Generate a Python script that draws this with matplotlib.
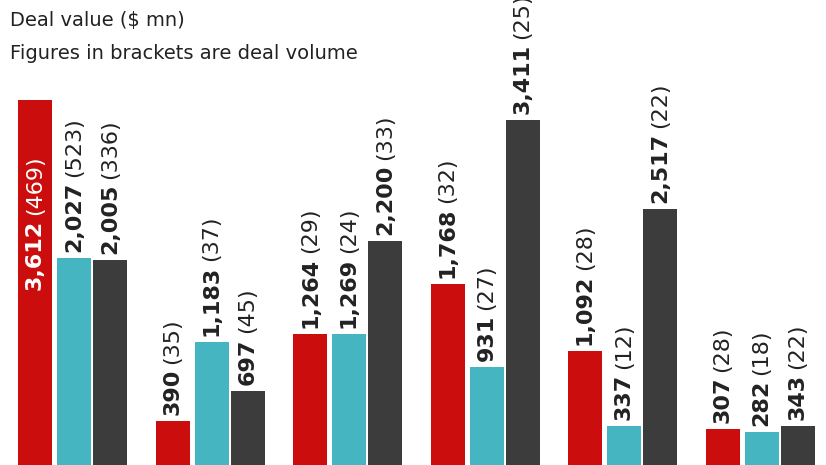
import matplotlib
matplotlib.use('Agg')
import matplotlib.pyplot as plt
import numpy as np

# Deal value ($ mn) and deal volume per group: red, teal, grey series
red_val = [3612, 390, 1264, 1768, 1092, 307]
red_vol = [469, 35, 29, 32, 28, 28]
teal_val = [2027, 1183, 1269, 931, 337, 282]
teal_vol = [523, 37, 24, 27, 12, 18]
grey_val = [2005, 697, 2200, 3411, 2517, 343]
grey_vol = [336, 45, 33, 25, 22, 22]

colors = ['#cc0d0d', '#46b5c2', '#3c3c3c']
series = [(red_val, red_vol), (teal_val, teal_vol), (grey_val, grey_vol)]

plt.rcParams['font.family'] = ['DejaVu Sans']
fig = plt.figure(figsize=(8.26, 4.65), dpi=100)
ax = fig.add_axes([0, 0, 1, 1])
ymin, ymax = -50, 4620
ax.set_xlim(0, 826)
ax.set_ylim(ymin, ymax)
ax.axis('off')
upp = (ymax - ymin) / 465  # data units per pixel

bw = 34
offsets = [17, 56, 92]
grp_x = 18 + 137.5 * np.arange(len(red_val))

fig.canvas.draw()
rend = fig.canvas.get_renderer()
inv = ax.transData.inverted()

for s, (vals, vols) in enumerate(series):
    xs = grp_x + offsets[s]
    ax.bar(xs, np.array(vals) - ymin, bottom=ymin, width=bw, color=colors[s])
    for x, v, n in zip(xs, vals, vols):
        inside = v > 3500 and s == 0
        tc = 'white' if inside else '#222222'
        y0 = v - 190 * upp if inside else v + 6 * upp
        t1 = ax.text(x, y0, f'{v:,}', rotation=90, ha='center', va='bottom',
                     fontsize=16, fontweight='bold', color=tc)
        bb = t1.get_window_extent(rend)
        ytop = inv.transform((0, bb.y1))[1]
        ax.text(x, ytop + 5 * upp, f'({n})', rotation=90, ha='center',
                va='bottom', fontsize=16, color=tc)

ax.text(10, ymax - 20 * upp, 'Deal value ($ mn)', fontsize=14,
        va='center', color='#222222')
ax.text(10, ymax - 53 * upp, 'Figures in brackets are deal volume',
        fontsize=14, va='center', color='#222222')

fig.savefig('out.png', dpi=100)
